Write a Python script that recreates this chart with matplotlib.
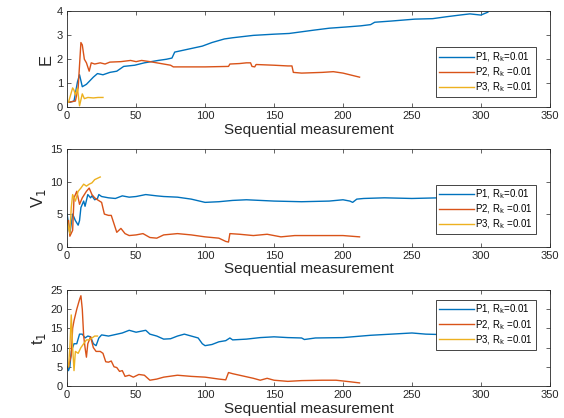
import matplotlib.pyplot as plt

plt.rcParams['font.family'] = ['Liberation Sans', 'DejaVu Sans']

blue = '#0072BD'
orange = '#D95319'
yellow = '#EDB120'

labels = ['P1, R$_\\mathrm{k}$=0.01', 'P2, R$_\\mathrm{k}$ =0.01', 'P3, R$_\\mathrm{k}$ =0.01']

# E
e1_x = [1, 2, 5, 7.5, 9, 11, 14, 19, 22, 26, 31, 36, 41, 49, 56, 66, 72, 76, 78, 82, 90, 98,
        105, 114, 120, 135, 150, 161, 170, 179, 190, 202, 213, 220, 223, 235, 252, 265, 275,
        286, 292, 300, 302, 305]
e1_y = [0.2, 0.2, 0.25, 1.05, 1.35, 0.85, 0.95, 1.25, 1.4, 1.35, 1.45, 1.5, 1.7, 1.75, 1.85,
        1.95, 2.0, 2.05, 2.3, 2.35, 2.45, 2.55, 2.7, 2.85, 2.9, 3.0, 3.05, 3.08, 3.15, 3.22, 3.3,
        3.35, 3.4, 3.45, 3.55, 3.6, 3.68, 3.7, 3.78, 3.86, 3.9, 3.85, 3.9, 3.97]
e2_x = [1, 6, 8, 10, 11, 12.5, 14, 16, 17.5, 20, 24, 27.5, 31, 39, 46, 50, 54, 60, 65, 70, 75,
        77, 80, 100, 117, 118, 125, 130, 133, 134, 136, 137, 150, 160, 163, 164, 170, 185, 193,
        200, 212]
e2_y = [0.2, 0.25, 0.8, 2.7, 2.6, 2.0, 1.85, 1.5, 1.85, 1.8, 1.85, 1.8, 1.88, 1.9, 1.95, 1.9,
        1.95, 1.9, 1.85, 1.8, 1.75, 1.68, 1.68, 1.68, 1.7, 1.8, 1.82, 1.85, 1.85, 1.7, 1.68,
        1.78, 1.75, 1.72, 1.72, 1.45, 1.42, 1.45, 1.48, 1.42, 1.25]
e3_x = [1, 4, 5, 6, 7.5, 9, 11, 12.5, 15, 19, 22.5, 26]
e3_y = [0.2, 0.8, 0.7, 0.5, 0.8, 0.05, 0.55, 0.35, 0.4, 0.38, 0.4, 0.4]

# V1
v1_x = [0, 2, 4, 6, 8, 9, 10, 12, 13, 15, 17, 18, 20, 22, 23, 25, 30, 35, 40, 45, 50, 57, 65,
        70, 80, 90, 100, 110, 120, 130, 150, 170, 190, 200, 205, 207, 210, 215, 230, 250, 270,
        290, 305]
v1_y = [5, 2, 5, 4, 3.3, 4, 6, 7, 6.2, 8, 7.5, 7.8, 7.2, 7.4, 8.0, 7.7, 7.5, 7.4, 7.8, 7.6,
        7.7, 8.0, 7.8, 7.7, 7.6, 7.3, 6.8, 6.9, 7.1, 7.2, 7.0, 6.9, 7.0, 7.2, 7.0, 6.8, 7.3, 7.4,
        7.5, 7.4, 7.5, 7.5, 7.5]
v2_x = [1, 2, 4, 5, 7, 9, 11, 14, 16, 18, 20, 22, 25, 27, 30, 32, 34, 36, 39, 42, 45, 50, 55,
        60, 65, 70, 80, 90, 100, 110, 115, 117, 118, 125, 135, 145, 155, 165, 180, 200, 212]
v2_y = [4, 1.6, 2.5, 7.5, 8.5, 6.5, 7.5, 8.5, 9.0, 8.0, 7.5, 7.2, 6.8, 5.0, 4.8, 4.8, 3.5,
        2.2, 2.8, 2.0, 1.7, 1.8, 2.0, 1.4, 1.3, 1.8, 2.0, 1.8, 1.5, 1.3, 0.8, 0.7, 2.0, 1.9,
        1.7, 1.9, 1.5, 1.7, 1.7, 1.7, 1.5]
v3_x = [0, 2, 3, 4, 6, 8, 10, 12, 14, 16, 18, 20, 22, 24]
v3_y = [4, 2, 6, 8, 7, 8.5, 9.0, 9.6, 9.3, 9.6, 9.8, 10.3, 10.5, 10.7]

# t1
t1_x = [0, 1, 2, 3, 5, 7, 9, 11, 13, 15, 17, 19, 21, 23, 25, 30, 40, 45, 50, 57, 60, 65, 70,
        75, 80, 85, 90, 95, 98, 100, 105, 110, 115, 118, 120, 130, 140, 150, 160, 170, 172, 180,
        200, 220, 240, 250, 260, 280, 305]
t1_y = [5, 4, 5, 9, 11, 11, 13.5, 13.5, 12.5, 13, 12.8, 11, 10.5, 12.5, 13.3, 13.0, 13.8,
        14.5, 14.0, 14.5, 13.5, 13, 12.2, 12.3, 13.0, 13.5, 13.0, 12.5, 11.0, 10.5, 10.8, 11.5,
        11.8, 12.5, 12.0, 12.2, 12.6, 12.8, 12.6, 12.5, 12.1, 12.5, 12.6, 13.2, 13.6, 13.8, 13.5,
        13.3, 13.3]
t2_x = [1, 3, 4, 5, 7, 9, 10, 11, 12, 13, 14, 15, 17, 19, 21, 24, 26, 28, 30, 32, 34, 36, 38,
        40, 42, 45, 48, 52, 56, 60, 65, 70, 80, 90, 100, 110, 115, 117, 120, 125, 135, 140, 145,
        150, 160, 170, 185, 195, 205, 212]
t2_y = [5, 8, 15, 17, 20, 22.5, 23.5, 20, 13, 10, 7.5, 11, 12.8, 10, 9, 9, 8.5, 6.3, 6.2,
        6.5, 5.0, 4.8, 3.8, 4.0, 2.5, 2.8, 2.3, 3.0, 2.8, 1.5, 1.8, 2.3, 2.8, 2.5, 2.3, 1.8,
        1.6, 3.5, 3.2, 2.8, 2.0, 1.5, 2.0, 1.5, 1.2, 1.4, 1.5, 1.5, 1.1, 0.8]
t3_x = [1, 2, 3, 4, 5, 6, 8, 10, 12, 14, 16, 18, 20, 22]
t3_y = [5, 10, 18.5, 10, 4, 9, 8.5, 10, 11, 12, 12, 12.5, 13, 13]

panels = [
    ('E', [0, 4], [0, 1, 2, 3, 4], [(e1_x, e1_y), (e2_x, e2_y), (e3_x, e3_y)],
     'lower right', (0.971, 0.105), [0.119, 0.744, 0.856, 0.2285]),
    ('V$_1$', [0, 15], [0, 5, 10, 15], [(v1_x, v1_y), (v2_x, v2_y), (v3_x, v3_y)],
     'lower right', (0.971, 0.128), [0.119, 0.41, 0.856, 0.2335]),
    ('t$_1$', [0, 25], [0, 5, 10, 15, 20, 25], [(t1_x, t1_y), (t2_x, t2_y), (t3_x, t3_y)],
     'upper right', (0.971, 0.896), [0.119, 0.0766, 0.856, 0.2297]),
]

fig = plt.figure(figsize=(5.64, 4.18), dpi=100)
for ylab, ylim, yticks, series, loc, anchor, rect in panels:
    ax = fig.add_axes(rect)
    for (x, y), c, lab in zip(series, [blue, orange, yellow], labels):
        ax.plot(x, y, color=c, lw=1.0, label=lab)
    ax.set_xlim(0, 350)
    ax.set_ylim(*ylim)
    ax.set_yticks(yticks)
    ax.set_xticks(range(0, 351, 50))
    ax.tick_params(direction='in', top=True, right=True, length=3, width=0.5,
                   labelsize=8, colors='#262626', pad=3)
    for s in ax.spines.values():
        s.set_linewidth(0.6)
        s.set_color('#262626')
    ax.set_ylabel(ylab, fontsize=12, color='#262626', labelpad=2)
    ax.set_xlabel('Sequential measurement', fontsize=11, color='#262626', labelpad=1)
    leg = ax.legend(loc=loc, bbox_to_anchor=anchor, borderaxespad=0, fontsize=7,
                    handlelength=3.6, handletextpad=0.1, labelspacing=0.15,
                    borderpad=0.3, fancybox=False, framealpha=1, edgecolor='#262626')
    leg.get_frame().set_linewidth(0.6)

fig.savefig('out.png', dpi=100)
